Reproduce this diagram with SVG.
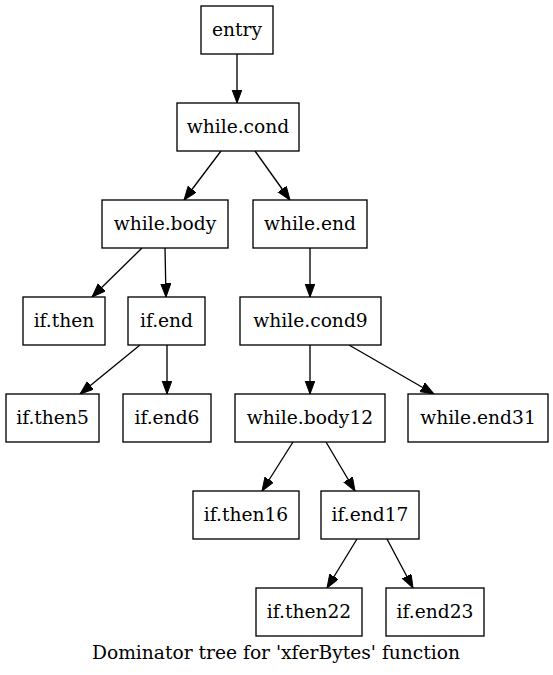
<svg xmlns="http://www.w3.org/2000/svg" width="553" height="675" viewBox="0 0 553 675">
<style>
.n rect{fill:#fff;stroke:#000;stroke-width:1.33}
text{font-family:"DejaVu Serif","Liberation Serif",serif;font-size:18.67px;fill:#000;text-anchor:middle}
.e path{fill:none;stroke:#000;stroke-width:1.33;marker-end:url(#ah)}
</style>
<defs>
<marker id="ah" markerUnits="userSpaceOnUse" markerWidth="15" markerHeight="11" refX="13.5" refY="5" orient="auto">
<path d="M0,0 L13.5,5 L0,10 z" fill="#000" stroke="#000" stroke-width="1"/>
</marker>
</defs>
<rect width="553" height="675" fill="#fff"/>
<g id="edges" class="e">
<path d="M237,54 L237,103"/>
<path d="M221,151 L184,200"/>
<path d="M255,151 L290,200"/>
<path d="M142,248 L92,297"/>
<path d="M165,248 L166,297"/>
<path d="M310,248 L310,297"/>
<path d="M140,345 L80,394"/>
<path d="M167,345 L167,394"/>
<path d="M310,345 L310,394"/>
<path d="M349,345 L434,394"/>
<path d="M293,442 L262,491"/>
<path d="M326,442 L355,491"/>
<path d="M357,539 L327,588"/>
<path d="M387,539 L413,588"/>
</g>
<g id="entry" class="n"><rect x="201" y="6" width="72" height="48"/><text x="237" y="36">entry</text></g>
<g id="while_cond" class="n"><rect x="177" y="103" width="122" height="48"/><text x="238" y="133">while.cond</text></g>
<g id="while_body" class="n"><rect x="102" y="200" width="126" height="48"/><text x="165" y="230">while.body</text></g>
<g id="while_end" class="n"><rect x="253" y="200" width="114" height="48"/><text x="310" y="230">while.end</text></g>
<g id="if_then" class="n"><rect x="23" y="297" width="82" height="48"/><text x="64" y="327">if.then</text></g>
<g id="if_end" class="n"><rect x="128" y="297" width="77" height="48"/><text x="166.5" y="327">if.end</text></g>
<g id="while_cond9" class="n"><rect x="240" y="297" width="141" height="48"/><text x="310.5" y="327">while.cond9</text></g>
<g id="if_then5" class="n"><rect x="6" y="394" width="93" height="48"/><text x="52.5" y="424">if.then5</text></g>
<g id="if_end6" class="n"><rect x="123" y="394" width="88" height="48"/><text x="167" y="424">if.end6</text></g>
<g id="while_body12" class="n"><rect x="235" y="394" width="150" height="48"/><text x="310" y="424">while.body12</text></g>
<g id="while_end31" class="n"><rect x="408" y="394" width="140" height="48"/><text x="478" y="424">while.end31</text></g>
<g id="if_then16" class="n"><rect x="193" y="491" width="106" height="48"/><text x="246" y="521">if.then16</text></g>
<g id="if_end17" class="n"><rect x="321" y="491" width="98" height="48"/><text x="370" y="521">if.end17</text></g>
<g id="if_then22" class="n"><rect x="256" y="588" width="106" height="48"/><text x="309" y="618">if.then22</text></g>
<g id="if_end23" class="n"><rect x="386" y="588" width="98" height="48"/><text x="435" y="618">if.end23</text></g>
<text x="276" y="659">Dominator tree for 'xferBytes' function</text>
</svg>
